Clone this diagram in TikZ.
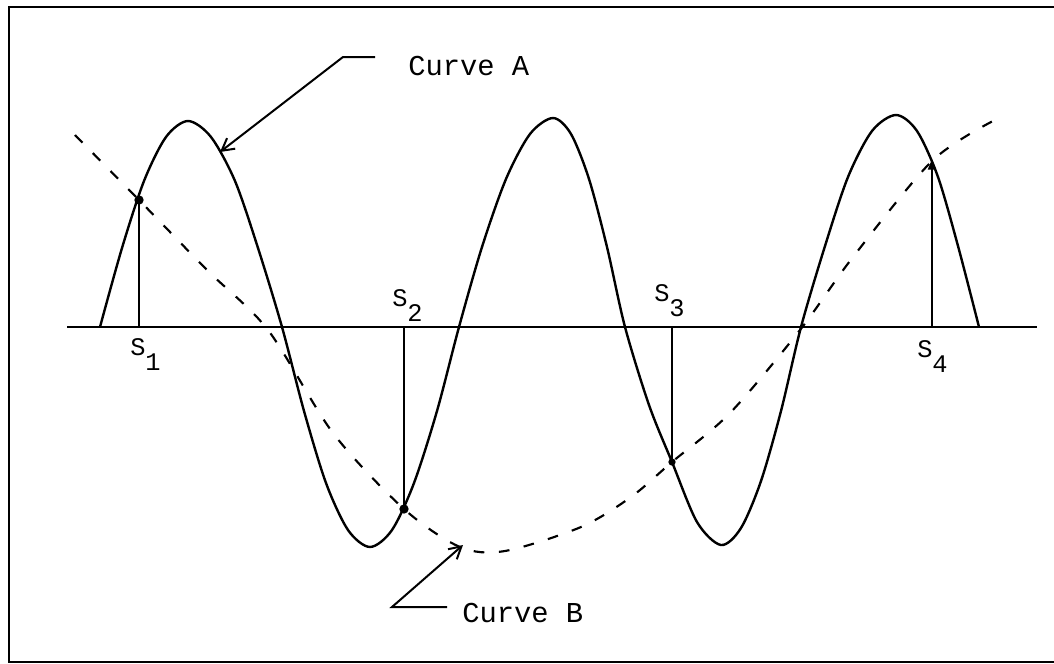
\documentclass[tikz,border=0pt]{standalone}
\usepackage{fontspec}
\setmainfont{Liberation Mono}
\usetikzlibrary{arrows.meta, positioning}
\tikzset{
  frame/.style={draw=black, line width=1.6pt},
  axis/.style={draw=black, line width=1.5pt},
  curvea/.style={draw=black, line width=1.8pt},
  curveb/.style={draw=black, line width=1.6pt, dash pattern=on 8pt off 11pt},
  stem/.style={draw=black, line width=1.5pt},
  leader/.style={-{Straight Barb[length=9pt, width=10pt]}, draw=black, line width=1.5pt},
  curvelab/.style={font=\fontsize{21.6}{26}\selectfont, inner sep=0pt, anchor=base west},
  samplab/.style={font=\fontsize{19}{23}\selectfont, inner sep=0pt, anchor=base west},
  sampdot/.style={circle, fill=black, inner sep=0pt, minimum size=7pt},
}
\newcommand{\samp}[1]{S\raisebox{-0.6em}{#1}}

\begin{document}
\begin{tikzpicture}[x=0.75pt, y=-0.75pt]
  \useasboundingbox (0,0) rectangle (1054,664);
  \draw[frame] (1054,7) -- (9,7) -- (9,662) -- (1054,662);

  % Axis
  \coordinate (axl) at (67,327);
  \coordinate (axr) at (1037,327);
  \draw[axis] (axl) -- (axr);

  % Curve A
  \draw[curvea] plot[smooth] coordinates {
    (100,327) (122,248) (144,181) (166,137) (188,121)
    (211,137) (235,181) (258,248) (282,327)
    (304,411) (326,483) (348,530) (370,547)
    (392,530) (414,483) (437,411) (459,327)
    (482,247) (506,179) (530,134) (553,118)
    (571,134) (589,179) (607,247) (625,327)
    (649,405) (672,462) (697,522) (721,545)
    (741,528) (761,481) (781,411) (801,327)
    (825,246) (848,177) (872,131) (896,115)
    (917,131) (938,177) (958,246) (979,327)};

  % Curve B
  \draw[curveb] plot[smooth] coordinates {(75,135) (139,200) (207,270) (268,330)
    (333,433) (404,509) (460,547) (505,551) (581,527) (631,497) (672,462)
    (730,413) (800,330) (853,257) (932,161) (993,121)};

  % Samples
  \coordinate (b1) at (139,327);
  \coordinate (b2) at (404,327);
  \coordinate (b3) at (672,327);
  \coordinate (b4) at (932,327);
  \node[sampdot] (p1) at (139,200) {};
  \node[sampdot] (p2) at (404,509) {};
  \node[sampdot, minimum size=5.5pt] (p3) at (672,462) {};
  \coordinate (p4) at (932,159);
  \draw[stem] (b1) -- (p1.center);
  \draw[stem] (b2) -- (p2.center);
  \draw[stem] (b3) -- (p3.center);
  \draw[stem, -{Triangle[length=8pt, width=6pt]}] (b4) -- (p4);

  \node[samplab] (s1) at (130,355) {\samp{1}};
  \node[samplab] (s2) at (392,306) {\samp{2}};
  \node[samplab] (s3) at (654,301) {\samp{3}};
  \node[samplab] (s4) at (917,357) {\samp{4}};

  % Labels
  \node[curvelab] (cura) at (408,75) {Curve A};
  \node[curvelab] (curb) at (462,622) {Curve B};
  \coordinate (ea) at (375,57);
  \coordinate (ka) at (343,57);
  \coordinate (ta) at (220,152);
  \coordinate (eb) at (447,607);
  \coordinate (kb) at (392,607);
  \coordinate (tb) at (463,545);
  \draw[leader] (ea) -- (ka) -- (ta);
  \draw[leader] (eb) -- (kb) -- (tb);
\end{tikzpicture}
\end{document}
